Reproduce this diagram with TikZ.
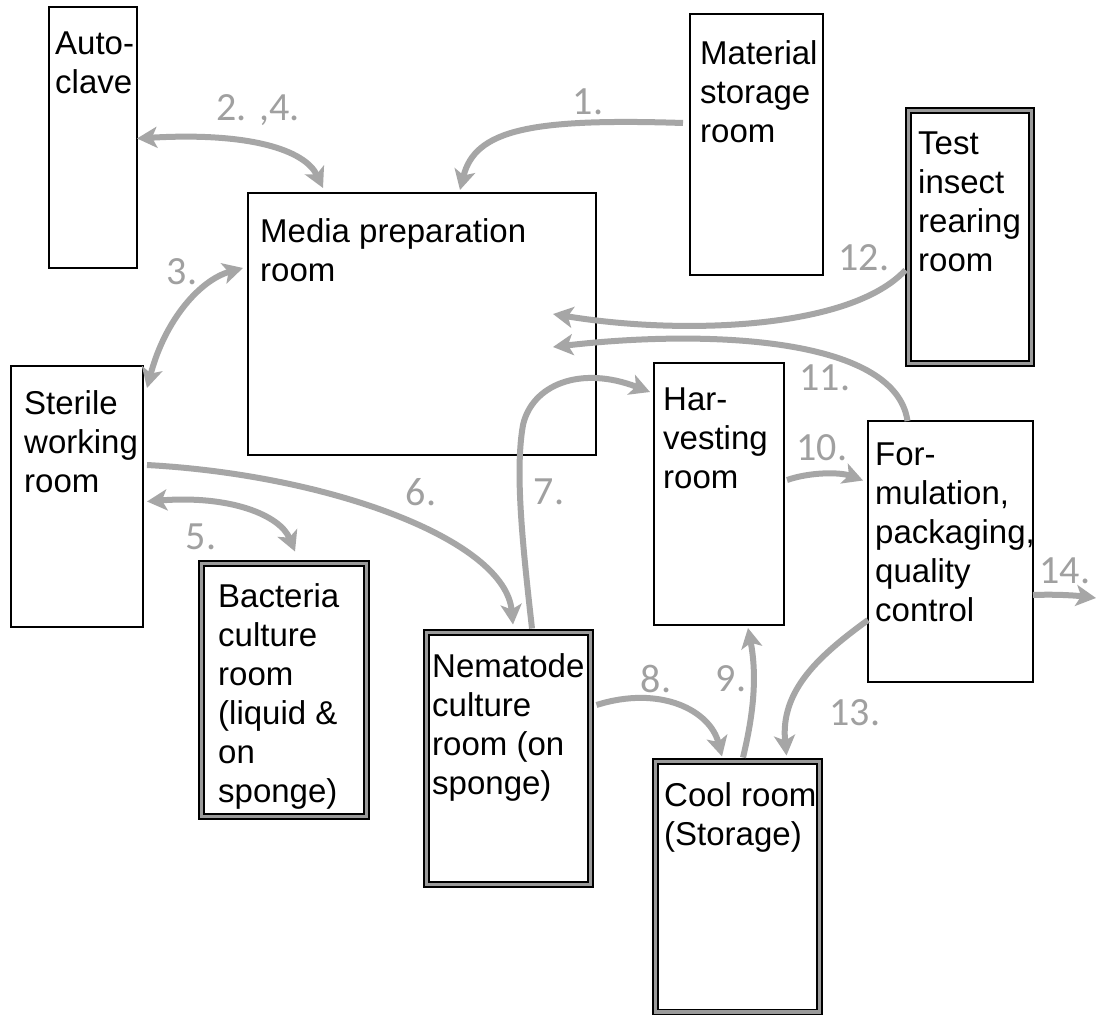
\documentclass[tikz,border=0pt]{standalone}
\usepackage{fontspec}
\setmainfont{Liberation Sans}
\newfontfamily\numfont{Carlito}
\usetikzlibrary{arrows.meta}
\definecolor{arrgray}{HTML}{A6A6A6}
\definecolor{labgray}{HTML}{A0A0A0}
\definecolor{midgray}{HTML}{9A9A9A}
\tikzset{
  room/.style={draw=black, line width=1.5pt, fill=white, inner sep=0pt, outer sep=0pt},
  droom/.style={draw=black, line width=1.3pt, double=midgray, double distance=3.6pt, fill=white, inner sep=0pt, outer sep=0pt},
  rtext/.style={anchor=north west, inner sep=0pt, align=left, font=\fontsize{33}{39}\selectfont},
  flow/.style={draw=arrgray, line width=6pt, -{Stealth[length=20pt, width=21pt, inset=5pt]}},
  dflow/.style={draw=arrgray, line width=6pt, {Stealth[length=20pt, width=21pt, inset=5pt]}-{Stealth[length=20pt, width=21pt, inset=5pt]}},
  lab/.style={text=labgray, inner sep=0pt, font=\numfont\fontsize{40}{44}\selectfont}
}
\begin{document}
\begin{tikzpicture}[x=1pt, y=-1pt]
\useasboundingbox (0,0) rectangle (1097,1016);
\fill[white] (0,0) rectangle (1097,1016);
% rooms
\node[room, minimum width=88pt, minimum height=261pt] (auto) at (93,137.5) {};
\node[room, minimum width=133pt, minimum height=261pt] (mat) at (756.5,144.5) {};
\node[room, minimum width=348pt, minimum height=262pt] (media) at (422,324) {};
\node[droom, minimum width=123pt, minimum height=253pt] (test) at (970,237) {};
\node[room, minimum width=132pt, minimum height=261pt] (sterile) at (77,496.5) {};
\node[room, minimum width=130pt, minimum height=262pt] (harv) at (719,494) {};
\node[room, minimum width=165pt, minimum height=261pt] (form) at (950.5,551.5) {};
\node[droom, minimum width=165pt, minimum height=253pt] (bact) at (284,690) {};
\node[droom, minimum width=164pt, minimum height=252pt] (nema) at (508.5,758.5) {};
\node[droom, minimum width=164pt, minimum height=250.5pt] (cool) at (737.5,886.75) {};
% room texts
\node[rtext] (autoT) at (55,32) {Auto-\\clave};
\node[rtext] (matT) at (700,40) {Material\\storage\\room};
\node[rtext] (mediaT) at (260,218) {Media preparation\\room};
\node[rtext] (testT) at (918,132) {Test\\insect\\rearing\\room};
\node[rtext] (sterileT) at (24,390) {Sterile\\working\\room};
\node[rtext] (harvT) at (663,388) {Har-\\vesting\\room};
\node[rtext] (formT) at (875,443) {For-\\mulation,\\packaging,\\quality\\control};
\node[rtext] (bactT) at (218,583) {Bacteria\\culture\\room\\(liquid \&\\on\\sponge)};
\node[rtext] (nemaT) at (432,653) {Nematode\\culture\\room (on\\sponge)};
\node[rtext] (coolT) at (664,782) {Cool room\\(Storage)};
% flows
\coordinate (out) at (1096,598);
\draw[flow] ([xshift=-7pt,yshift=21.5pt]mat.west) .. controls (530,118) and (475,130) .. ([xshift=38pt,yshift=3pt]media.north);
\draw[dflow] ([yshift=-1pt]auto.east) .. controls (250,132) and (305,150) .. ([xshift=75pt,yshift=5pt]media.north west);
\draw[dflow] ([xshift=4pt,yshift=-22pt]sterile.north east) .. controls (165,320) and (200,280) .. ([xshift=-5pt,yshift=56pt]media.west);
\draw[dflow] ([xshift=4pt,yshift=-5pt]sterile.east) .. controls (230,495) and (280,515) .. ([xshift=11pt,yshift=12pt]bact.north);
\draw[flow] ([xshift=4pt,yshift=31.5pt]sterile.east) .. controls (330,475) and (505,540) .. ([xshift=4.5pt,yshift=8pt]nema.north);
\draw[flow] ([xshift=23.5pt,yshift=4pt]nema.north) .. controls (522,540) and (515,470) .. (523,425) .. controls (532,385) and (580,365) .. ([xshift=-4pt,yshift=102pt]harv.west);
\draw[flow] ([xshift=6pt,yshift=53.5pt]nema.east) .. controls (660,685) and (710,710) .. ([xshift=-15.5pt,yshift=5pt]cool.north);
\draw[flow] ([xshift=5.5pt,yshift=4pt]cool.north) .. controls (752,720) and (758,680) .. ([xshift=29pt,yshift=-3pt]harv.south);
\draw[flow] ([xshift=3pt,yshift=14pt]harv.east) .. controls (810,472) and (840,472) .. ([xshift=-5pt,yshift=71pt]form.west);
\draw[flow] ([xshift=-43pt]form.north) .. controls (895,335) and (700,330) .. ([xshift=-43pt,yshift=-23pt]media.east);
\draw[flow] ([xshift=-3pt,yshift=-33pt]test.west) .. controls (850,330) and (680,335) .. ([xshift=-43pt,yshift=10pt]media.east);
\draw[flow] ([yshift=-68.5pt]form.west) .. controls (820,655) and (780,690) .. ([xshift=49pt,yshift=6pt]cool.north);
\draw[flow] ([yshift=-43.5pt]form.east) .. controls (1060,594) and (1080,596) .. (out);
% labels
\node[lab] (l1) at (588,102) {1.};
\node[lab] (l24) at (258,110) {2. ,4.};
\node[lab] (l3) at (182,272) {3.};
\node[lab] (l5) at (201,537) {5.};
\node[lab] (l6) at (421,492) {6.};
\node[lab] (l7) at (549,492) {7.};
\node[lab] (l8) at (656,679) {8.};
\node[lab] (l9) at (731,679) {9.};
\node[lab] (l10) at (822,448) {10.};
\node[lab] (l11) at (825,378) {11.};
\node[lab] (l12) at (864,258) {12.};
\node[lab] (l13) at (855,713) {13.};
\node[lab] (l14) at (1065,571) {14.};
\end{tikzpicture}
\end{document}
